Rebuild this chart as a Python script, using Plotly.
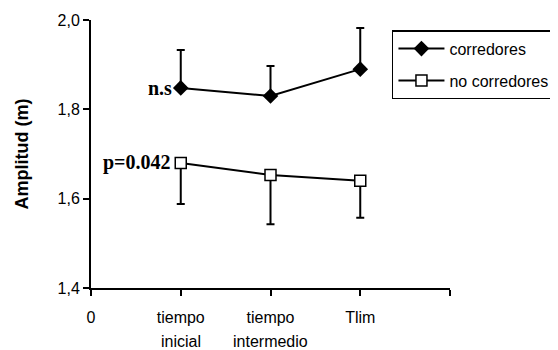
import plotly.graph_objects as go

x_pos = [1, 2, 3]
tick_vals = [0, 1, 2, 3, 4]
tick_line1 = ["0", "tiempo", "tiempo", "Tlim", ""]
tick_line2 = ["", "inicial", "intermedio", "", ""]
y_ticks = [1.4, 1.6, 1.8, 2.0]
y_tick_text = ["1,4", "1,6", "1,8", "2,0"]

corredores = [1.848, 1.830, 1.890]
corredores_err = [0.085, 0.067, 0.092]
no_corredores = [1.680, 1.653, 1.640]
no_corredores_err = [0.092, 0.110, 0.083]

font_main = "Liberation Sans, Arial, sans-serif"
font_serif = "Liberation Serif, Times New Roman, serif"

fig = go.Figure()
fig.add_trace(go.Scatter(
    x=x_pos, y=corredores, mode="lines+markers", name="corredores",
    legendgroup="a",
    line=dict(color="black", width=2),
    marker=dict(symbol="diamond", size=12, color="black"),
    error_y=dict(type="data", symmetric=False, array=corredores_err,
                 arrayminus=[0, 0, 0], color="black", thickness=2, width=4),
))
fig.add_trace(go.Scatter(
    x=x_pos, y=no_corredores, mode="lines+markers", name="no corredores",
    legendgroup="b",
    line=dict(color="black", width=2),
    marker=dict(symbol="square", size=11, color="white",
                line=dict(color="black", width=1.5)),
    error_y=dict(type="data", symmetric=False, array=[0, 0, 0],
                 arrayminus=no_corredores_err, color="black", thickness=2, width=4),
))

fig.add_annotation(x=x_pos[0], y=corredores[0], text="<b>n.s</b>", showarrow=False,
                   xanchor="right", xshift=-7, yshift=0,
                   font=dict(family=font_serif, size=20, color="black"))
fig.add_annotation(x=x_pos[0], y=no_corredores[0], text="<b>p=0.042</b>", showarrow=False,
                   xanchor="right", xshift=-8, yshift=0,
                   font=dict(family=font_serif, size=20, color="black"))

# second line of the category labels (wider line spacing than plotly's <br>)
for xv, t in zip(tick_vals, tick_line2):
    if t:
        fig.add_annotation(x=xv, y=-0.198, xref="x", yref="paper", text=t,
                           showarrow=False, yanchor="middle",
                           font=dict(family=font_main, size=16, color="black"))

fig.update_layout(
    width=558, height=350,
    margin=dict(l=83, r=115, t=12, b=70),
    paper_bgcolor="white", plot_bgcolor="white",
    font=dict(family=font_main, size=16, color="black"),
    showlegend=True,
    legend=dict(x=0.836, y=0.962, xanchor="left", yanchor="top",
                bordercolor="black", borderwidth=1.5, bgcolor="white",
                font=dict(family=font_main, size=16, color="black"),
                tracegroupgap=8, itemwidth=46),
    xaxis=dict(range=[0, 4], tickvals=tick_vals, ticktext=tick_line1,
               showline=True, linecolor="black", linewidth=2,
               ticks="outside", ticklen=6, tickwidth=2, tickcolor="black",
               ticklabelstandoff=8, automargin=False,
               showgrid=False, zeroline=False, tickfont=dict(size=16)),
    yaxis=dict(range=[1.4, 2.0], tickvals=y_ticks, ticktext=y_tick_text,
               showline=True, linecolor="black", linewidth=2,
               ticks="outside", ticklen=6, tickwidth=2, tickcolor="black",
               automargin=False,
               showgrid=False, zeroline=False, tickfont=dict(size=16),
               title=dict(text="<b>Amplitud (m)</b>", font=dict(size=18), standoff=24)),
)

fig.write_html("out.html")
